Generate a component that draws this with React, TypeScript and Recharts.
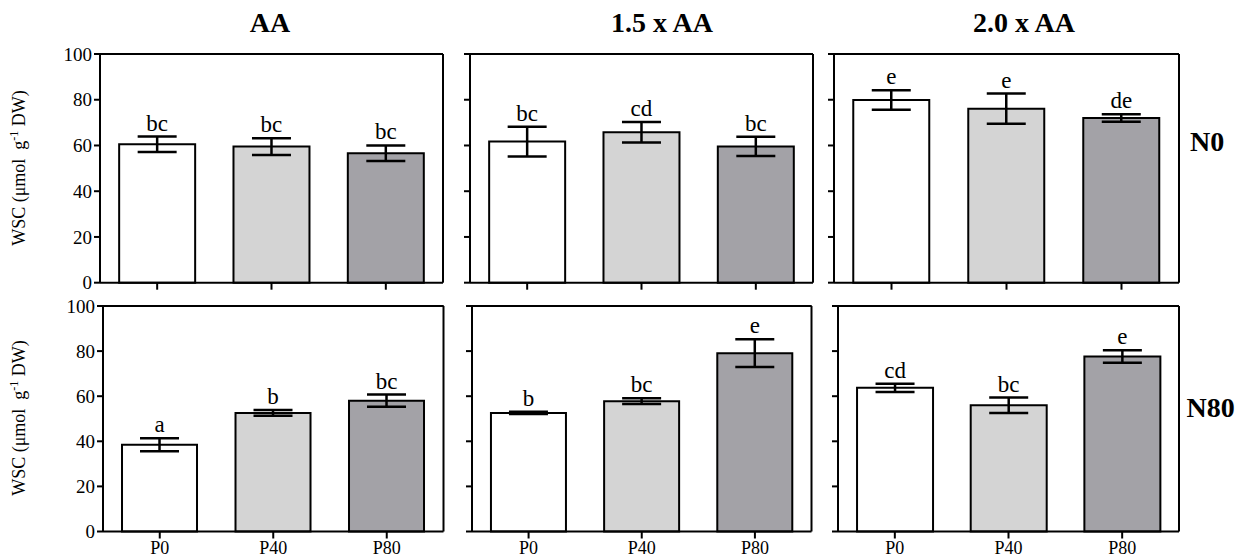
import { BarChart, Bar, XAxis, YAxis, ErrorBar, Cell, LabelList, CartesianGrid, ReferenceLine } from 'recharts';

const serif = '"Liberation Serif", "Times New Roman", serif';

const doses = ['P0', 'P40', 'P80'];
const fills = ['#ffffff', '#d4d4d4', '#a3a2a7'];
const yTicks = [0, 20, 40, 60, 80, 100];
const colTitles = ['AA', '1.5 x AA', '2.0 x AA'];
const rowTitles = ['N0', 'N80'];

// N0 row
const n0AA = [60.5, 59.5, 56.6];
const n0AAErr = [3.4, 3.7, 3.4];
const n0AALetters = ['bc', 'bc', 'bc'];
const n015 = [61.7, 65.8, 59.6];
const n015Err = [6.5, 4.5, 4.2];
const n015Letters = ['bc', 'cd', 'bc'];
const n020 = [79.9, 76.1, 72.0];
const n020Err = [4.3, 6.6, 1.6];
const n020Letters = ['e', 'e', 'de'];

// N80 row
const n80AA = [38.5, 52.6, 58.0];
const n80AAErr = [2.9, 1.3, 2.7];
const n80AALetters = ['a', 'b', 'bc'];
const n8015 = [52.6, 57.8, 79.1];
const n8015Err = [0.5, 1.3, 6.1];
const n8015Letters = ['b', 'bc', 'e'];
const n8020 = [63.7, 56.0, 77.6];
const n8020Err = [1.8, 3.4, 2.8];
const n8020Letters = ['cd', 'bc', 'e'];

const build = (vals: number[], errs: number[], letters: string[]) =>
  doses.map((dose, i) => ({ dose, value: vals[i], err: errs[i], letter: letters[i] }));

const grid = [
  [build(n0AA, n0AAErr, n0AALetters), build(n015, n015Err, n015Letters), build(n020, n020Err, n020Letters)],
  [build(n80AA, n80AAErr, n80AALetters), build(n8015, n8015Err, n8015Letters), build(n8020, n8020Err, n8020Letters)],
];

// plot boxes [left, top, right, bottom]
const boxes = [
  [[100, 54, 443, 282.7], [469.5, 54, 812.5, 282.7], [834, 54, 1179, 282.7]],
  [[102.5, 306, 443, 531.5], [471.5, 306, 811, 531.5], [838, 306, 1179, 531.5]],
];

const blackLine = { stroke: '#000', strokeWidth: 2 };

function letterLabel(rows: any[]) {
  return (p: any) => {
    const vb = p.viewBox || p;
    const d = rows[p.index] || rows.find((r) => r.letter === p.value);
    if (!d || !vb.height) return null;
    const pxPer = vb.height / d.value;
    const yTop = vb.y - d.err * pxPer;
    return (
      <text x={vb.x + vb.width / 2} y={yTop - 6} textAnchor="middle" fontSize={23} fontFamily={serif} fill="#000">
        {d.letter}
      </text>
    );
  };
}

function Panel({ rows, box, first, bottom }: { rows: any[]; box: number[]; first: boolean; bottom: boolean }) {
  const [l, t, r, b] = box;
  const pw = r - l;
  const ph = b - t;
  const ml = 60, mt = 30, mb = 30, mr = 10;
  return (
    <div style={{ position: 'absolute', left: l - ml, top: t - mt }}>
      <BarChart
        width={pw + ml + mr}
        height={ph + mt + mb}
        data={rows}
        margin={{ top: mt, right: mr, bottom: 0, left: 0 }}
        barCategoryGap="16.75%"
      >
        <CartesianGrid
          stroke="#000"
          strokeWidth={2}
          horizontalCoordinatesGenerator={({ offset }: any) => [offset.top]}
          verticalCoordinatesGenerator={({ offset }: any) => [offset.left + offset.width]}
        />
        <XAxis
          dataKey="dose"
          height={mb}
          tickSize={7}
          tickMargin={3}
          axisLine={blackLine}
          tickLine={blackLine}
          tick={{ fill: '#000', fontSize: 18, fontFamily: serif }}
          tickFormatter={bottom ? undefined : () => ''}
        />
        <YAxis
          width={ml}
          domain={[0, 100]}
          ticks={yTicks}
          tickSize={6}
          axisLine={blackLine}
          tickLine={blackLine}
          tick={{ fill: '#000', fontSize: 19, fontFamily: serif }}
          tickFormatter={first ? undefined : () => ''}
        />
        <ReferenceLine y={100} stroke="#000" strokeWidth={2} />
        <Bar dataKey="value" stroke="#000" strokeWidth={2} isAnimationActive={false}>
          {rows.map((d, i) => (
            <Cell key={d.dose} fill={fills[i]} />
          ))}
          <ErrorBar dataKey="err" width={19.5} stroke="#000" strokeWidth={2.5} />
          <LabelList dataKey="letter" content={letterLabel(rows)} />
        </Bar>
      </BarChart>
    </div>
  );
}

const titleX = [270, 662, 1024];
const rowLabelPos = [
  [1190, 151],
  [1186.5, 417],
];
const yLabelY = [168, 418];

export default function App() {
  return (
    <div style={{ position: 'absolute', left: 0, top: 0, width: 1247, height: 560, background: '#fff' }}>
      {grid.map((row, ri) =>
        row.map((rows, ci) => (
          <Panel key={`${ri}-${ci}`} rows={rows} box={boxes[ri][ci]} first={ci === 0} bottom={ri === 1} />
        ))
      )}
      <svg width={1247} height={560} style={{ position: 'absolute', left: 0, top: 0, pointerEvents: 'none' }}>
        {colTitles.map((t, i) => (
          <text key={t} x={titleX[i]} y={32} textAnchor="middle" fontSize={28} fontWeight="bold" fontFamily={serif}>
            {t}
          </text>
        ))}
        {rowTitles.map((t, i) => (
          <text key={t} x={rowLabelPos[i][0]} y={rowLabelPos[i][1]} fontSize={28} fontWeight="bold" fontFamily={serif}>
            {t}
          </text>
        ))}
        {yLabelY.map((y) => (
          <text
            key={y}
            transform={`translate(25,${y}) rotate(-90)`}
            textAnchor="middle"
            fontSize={18}
            fontFamily={serif}
            style={{ whiteSpace: 'pre' }}
          >
            WSC (μmol  g
            <tspan dy={-7} fontSize={12}>-1</tspan>
            <tspan dy={7}> DW)</tspan>
          </text>
        ))}
      </svg>
    </div>
  );
}
